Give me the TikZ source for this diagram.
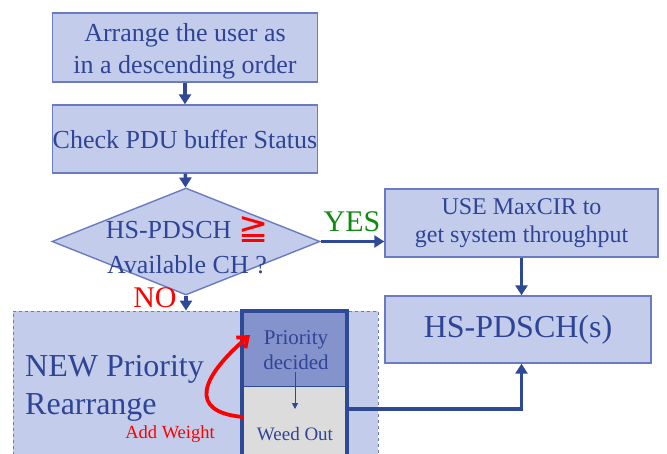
\documentclass[tikz,border=0pt]{standalone}
\usepackage{fontspec}
\setmainfont{Liberation Serif}
\newfontfamily\symfont{DejaVu Sans}
\usetikzlibrary{shapes.geometric,arrows.meta,calc}
\definecolor{boxfill}{HTML}{C3CDEB}
\definecolor{boxline}{HTML}{6A7BC0}
\definecolor{inktext}{HTML}{2F4496}
\definecolor{flow}{HTML}{2E4A96}
\definecolor{prioFill}{HTML}{8493CC}
\definecolor{weedFill}{HTML}{DCDCDC}
\definecolor{yesgreen}{HTML}{128A12}
\tikzset{
  stepbox/.style={draw=boxline, fill=boxfill, line width=1.4pt, rectangle,
    inner sep=0pt, align=center, text=inktext},
  flowarrow/.style={draw=flow, line width=3.6pt, -{Triangle[length=10pt,width=12pt]}},
  lbl/.style={inner sep=0pt, align=center, text=inktext},
}
\begin{document}
\begin{tikzpicture}[x=1pt, y=-1pt]
\clip (0,0) rectangle (667,453);
\fill[white] (0,0) rectangle (667,453);

% left column
\node[stepbox, minimum width=265pt, minimum height=69pt] (b1) at (185,47.5) {};
\node[lbl, font=\fontsize{26}{32}\selectfont] (b1text) at (185,51)
  {Arrange the user as\\in a descending order};
\node[stepbox, minimum width=265pt, minimum height=68pt,
  font=\fontsize{26}{32}\selectfont] (b2) at (185,139)
  {Check PDU buffer Status};
\node[diamond, draw=boxline, fill=boxfill, line width=1.4pt, inner sep=0pt,
  minimum width=268pt, minimum height=107pt] (dia) at (186,241.5) {};
\node[lbl, font=\fontsize{26}{35}\selectfont] (dtext) at (187,245)
  {HS-PDSCH {\color{red}\symfont\fontsize{36}{36}\selectfont\raisebox{-1pt}{≧}}\\Available CH ?};

% right column
\node[stepbox, minimum width=273pt, minimum height=68pt,
  font=\fontsize{24}{28}\selectfont] (b3) at (521.5,223)
  {USE MaxCIR to\\get system throughput};
\node[stepbox, minimum width=266pt, minimum height=67pt,
  font=\fontsize{32}{38}\selectfont] (b4) at (518,329.5)
  {HS-PDSCH(s)};

% priority rearrangement region
\node[draw=boxline, fill=boxfill, dashed, line width=0.9pt, rectangle,
  inner sep=0pt, minimum width=365pt, minimum height=149pt] (region) at (195.5,385.5) {};
\node[lbl, anchor=west, align=left, font=\fontsize{32}{38}\selectfont] (newp) at (25,388)
  {NEW Priority\\Rearrange};
\fill[prioFill] (242,311) rectangle (347,386);
\fill[weedFill] (242,386) rectangle (347,460);
\draw[flow, line width=1pt] (242,386) -- (347,386);
\node[draw=flow, line width=3.6pt, rectangle, inner sep=0pt,
  minimum width=105pt, minimum height=149pt] (ibox) at (294.5,385.5) {};
\node[lbl, font=\fontsize{21}{25}\selectfont] (decided) at (296,350.5)
  {Priority\\decided};
\node[lbl, font=\fontsize{19}{23}\selectfont] (weed) at (295,434) {Weed Out};
\node[lbl, text=red, font=\fontsize{18.5}{22}\selectfont] (addw) at (170,434) {Add Weight};
\coordinate (dtop) at (295,372);
\coordinate (dbot) at (295,409);
\draw[flow, line width=1pt, -{Triangle[length=6pt,width=6pt]}] (dtop) -- (dbot);

% feedback loop
\coordinate (loopS) at (243,417);
\coordinate (loopE) at (250,335);
\draw[red, line width=3.8pt, -{Straight Barb[length=9pt,width=14pt]}]
  (loopS) .. controls (188,412) and (200,378) .. (loopE);

% connectors
\draw[flowarrow] (b1) -- (b2);
\draw[flowarrow] (b2) -- (dia);
\draw[flowarrow] (dia.south) -- (dia.south |- region.north);
\draw[flowarrow] (dia.east) -- (dia.east -| b3.west);
\draw[flowarrow] (b3.south) -- (b3.south |- b4.north);
\coordinate (exit) at (347,409);
\draw[flowarrow] (exit) -| (b3.south |- b4.south);

% branch labels
\node[lbl, text=yesgreen, font=\fontsize{30}{30}\selectfont] (yes) at (352,222) {YES};
\node[lbl, text=red, font=\fontsize{30}{30}\selectfont] (no) at (155,298) {NO};
\end{tikzpicture}
\end{document}
